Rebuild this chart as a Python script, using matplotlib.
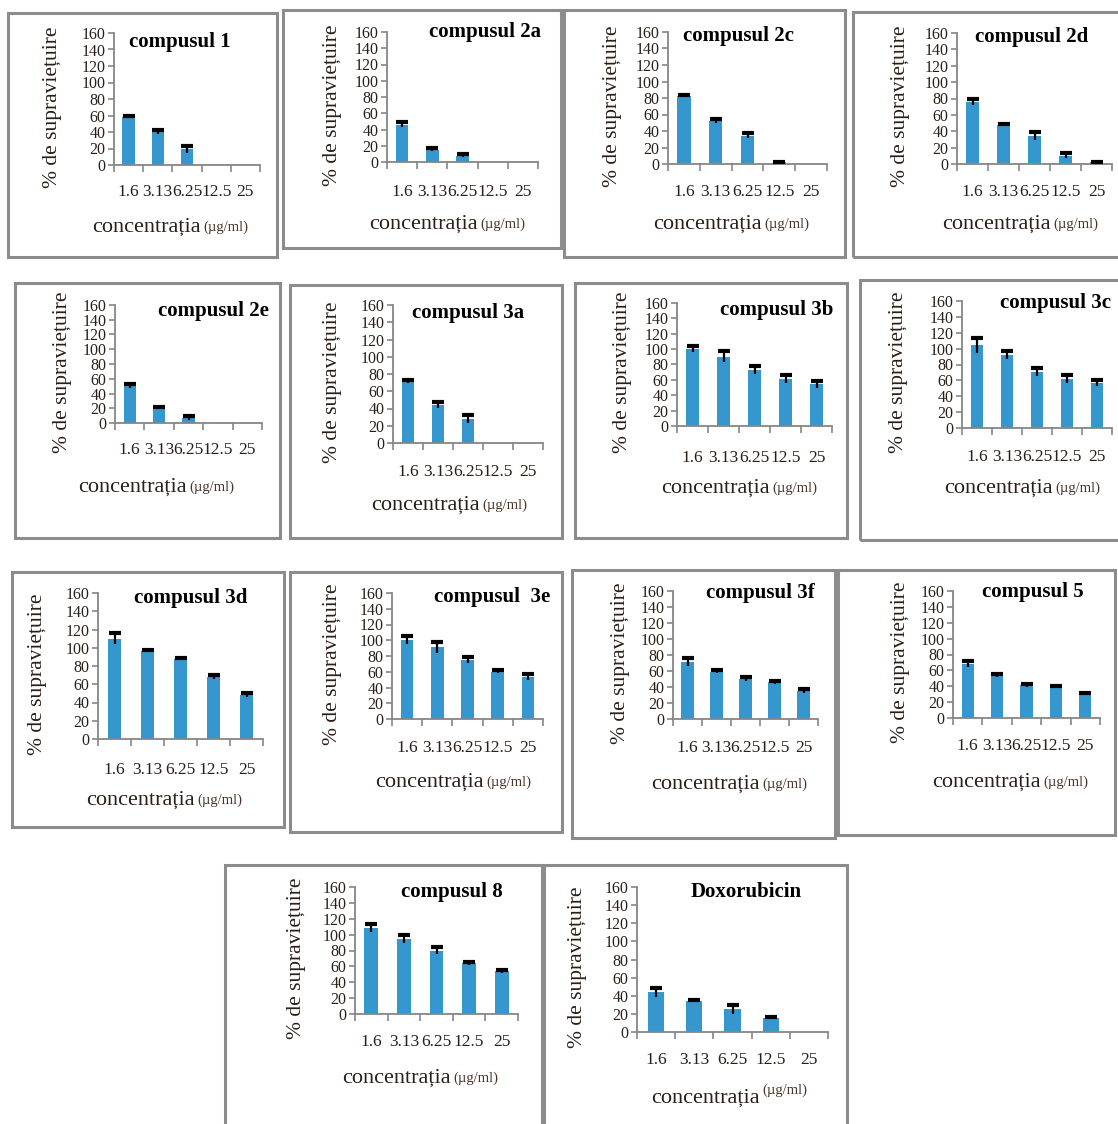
import numpy as np
import matplotlib.pyplot as plt
from matplotlib.patches import Rectangle

plt.rcParams['font.family'] = ['Liberation Serif', 'DejaVu Serif']

# concentration steps (ug/ml) shared by every panel
concentrations = ["1.6", "3.13", "6.25", "12.5", "25"]

# survival (%) and error for each compound
c1 = [58, 40, 19, 0, 0]
c1_err = [1, 2, 4, 0, 0]
c2a = [46, 15, 8, 0, 0]
c2a_err = [3, 2, 2, 0, 0]
c2c = [83, 52, 34, 2, 0]
c2c_err = [1, 2, 3, 0.5, 0]
c2d = [76, 48, 34, 10, 2]
c2d_err = [4, 1, 5, 3, 0.5]
c2e = [50, 21, 7, 0, 0]
c2e_err = [3, 1, 3, 0, 0]
c3a = [71, 44, 28, 0, 0]
c3a_err = [2, 3, 5, 0, 0]
c3b = [100, 90, 73, 61, 54]
c3b_err = [4, 7, 5, 5, 4]
c3c = [104, 92, 71, 62, 57]
c3c_err = [9, 5, 5, 5, 4]
c3d = [110, 96, 88, 68, 48]
c3d_err = [6, 1, 1, 2, 2]
c3e = [100, 91, 75, 60, 53]
c3e_err = [5, 7, 4, 2, 4]
c3f = [71, 59, 50, 46, 35]
c3f_err = [5, 2, 2, 2, 2]
c5 = [68, 54, 41, 39, 31]
c5_err = [4, 2, 2, 1, 1]
c8 = [108, 94, 80, 64, 54]
c8_err = [5, 5, 4, 2, 2]
dox = [44, 34, 25, 16, 0]
dox_err = [5, 1, 5, 1, 0]

titles = ["compusul 1", "compusul 2a", "compusul 2c", "compusul 2d",
          "compusul 2e", "compusul 3a", "compusul 3b", "compusul 3c",
          "compusul 3d", "compusul  3e", "compusul 3f", "compusul 5",
          "compusul 8", "Doxorubicin"]
series = [c1, c2a, c2c, c2d, c2e, c3a, c3b, c3c, c3d, c3e, c3f, c5, c8, dox]
errors = [c1_err, c2a_err, c2c_err, c2d_err, c2e_err, c3a_err, c3b_err,
          c3c_err, c3d_err, c3e_err, c3f_err, c5_err, c8_err, dox_err]

# pixel layout: frame box, plot box (left, top, right, bottom),
# title centre, y-label x, x-label split point and y, tick label y
layout = [
    dict(box=(8, 13, 277, 257), ax=(114, 33, 260, 165), title=(180, 42), ylab=53, xlab=(201, 227), tick=192),
    dict(box=(283, 10, 561, 248), ax=(387, 32, 538, 162), title=(485, 32), ylab=332, xlab=(478, 224), tick=192),
    dict(box=(564, 10, 845, 257), ax=(668, 32, 827, 164), title=(738, 36), ylab=613, xlab=(762, 224), tick=192),
    dict(box=(853, 12, 1125, 257), ax=(957, 33, 1112, 164), title=(1032, 37), ylab=900, xlab=(1051, 224), tick=192),
    dict(box=(15, 283, 280, 538), ax=(115, 305, 262, 423), title=(213, 311), ylab=62, xlab=(187, 487), tick=450),
    dict(box=(290, 285, 562, 538), ax=(393, 305, 543, 443), title=(468, 313), ylab=332, xlab=(480, 505), tick=472),
    dict(box=(575, 283, 847, 538), ax=(677, 303, 832, 426), title=(777, 310), ylab=622, xlab=(770, 488), tick=458),
    dict(box=(860, 280, 1125, 540), ax=(962, 301, 1112, 428), title=(1055, 303), ylab=898, xlab=(1053, 488), tick=457),
    dict(box=(12, 572, 284, 827), ax=(98, 593, 263, 739), title=(191, 598), ylab=38, xlab=(195, 800), tick=770),
    dict(box=(290, 572, 562, 832), ax=(392, 593, 543, 719), title=(492, 597), ylab=333, xlab=(484, 782), tick=748),
    dict(box=(572, 570, 835, 838), ax=(673, 591, 818, 719), title=(760, 593), ylab=620, xlab=(760, 784), tick=748),
    dict(box=(838, 570, 1115, 835), ax=(953, 591, 1100, 718), title=(1033, 592), ylab=900, xlab=(1041, 782), tick=746),
    dict(box=(225, 865, 542, 1130), ax=(355, 887, 518, 1014), title=(452, 892), ylab=297, xlab=(451, 1078), tick=1042),
    dict(box=(544, 865, 847, 1130), ax=(637, 887, 828, 1032), title=(746, 892), ylab=578, xlab=(760, 1098), tick=1060),
]

W, H = 1118, 1124
fig = plt.figure(figsize=(W / 100, H / 100), dpi=100)
fig.patch.set_facecolor("white")

bar_color = "#3597cd"
axis_color = "#868686"
text_color = "#2a1f18"
x = np.arange(len(concentrations))

for i, (title, vals, errs, lay) in enumerate(zip(titles, series, errors, layout)):
    vals = np.array(vals, dtype=float)
    errs = np.array(errs, dtype=float)

    x0, y0, x1, y1 = lay["box"]
    fig.add_artist(Rectangle((x0 / W, 1 - y1 / H), (x1 - x0) / W, (y1 - y0) / H,
                             transform=fig.transFigure, fill=False,
                             ec="#8c8c8c", lw=2.2))

    l, t, r, b = lay["ax"]
    ax = fig.add_axes([l / W, 1 - b / H, (r - l) / W, (b - t) / H])
    ax.patch.set_alpha(0)

    ax.bar(x, vals, width=0.42, color=bar_color, zorder=2)
    shown = vals > 0
    ax.errorbar(x[shown], vals[shown], yerr=[errs[shown], errs[shown]], fmt="none",
                ecolor="black", elinewidth=1.6, capsize=0, zorder=3)
    ax.plot(x[shown], vals[shown] + errs[shown], ls="none", marker="_",
            ms=9, mew=3, color="black", zorder=4)

    ax.set_xlim(-0.5, len(concentrations) - 0.5)
    ax.set_ylim(0, 160)
    ax.set_yticks(np.arange(0, 161, 20))

    ax.set_xticks(x)
    pad = (lay["tick"] - b - 8) * 0.72
    ax.set_xticklabels(concentrations, fontsize=12.5, color=text_color)
    ax.set_xticks(np.arange(-0.5, len(concentrations)), minor=True)
    ax.tick_params(axis="x", which="major", length=0, pad=pad)
    ax.tick_params(axis="x", which="minor", length=5, width=1.2, color=axis_color, direction="out")
    ax.tick_params(axis="y", length=4, width=1.2, color=axis_color, labelsize=11.5,
                   labelcolor=text_color, pad=2)

    for side in ["top", "right"]:
        ax.spines[side].set_visible(False)
    for side in ["left", "bottom"]:
        ax.spines[side].set_color(axis_color)
        ax.spines[side].set_linewidth(1.3)

    tx, ty = lay["title"]
    fig.text(tx / W, 1 - ty / H, title, ha="center", va="center",
             fontsize=15, weight="bold", color="black")

    ylx = lay["ylab"]
    fig.text(ylx / W, 1 - ((t + b) / 2 + 8) / H, "% de supraviețuire", rotation=90,
             ha="center", va="center", fontsize=15.5, color=text_color)

    sx, sy = lay["xlab"]
    fig.text(sx / W, 1 - sy / H, "concentrația", ha="right", va="center",
             fontsize=16, color=text_color)
    unit_y = sy - 8 if title == "Doxorubicin" else sy
    fig.text((sx + 2) / W, 1 - unit_y / H, "(µg/ml)", ha="left", va="center",
             fontsize=10.5, color="#4a3528")

fig.savefig("out.png", dpi=100, facecolor="white")
